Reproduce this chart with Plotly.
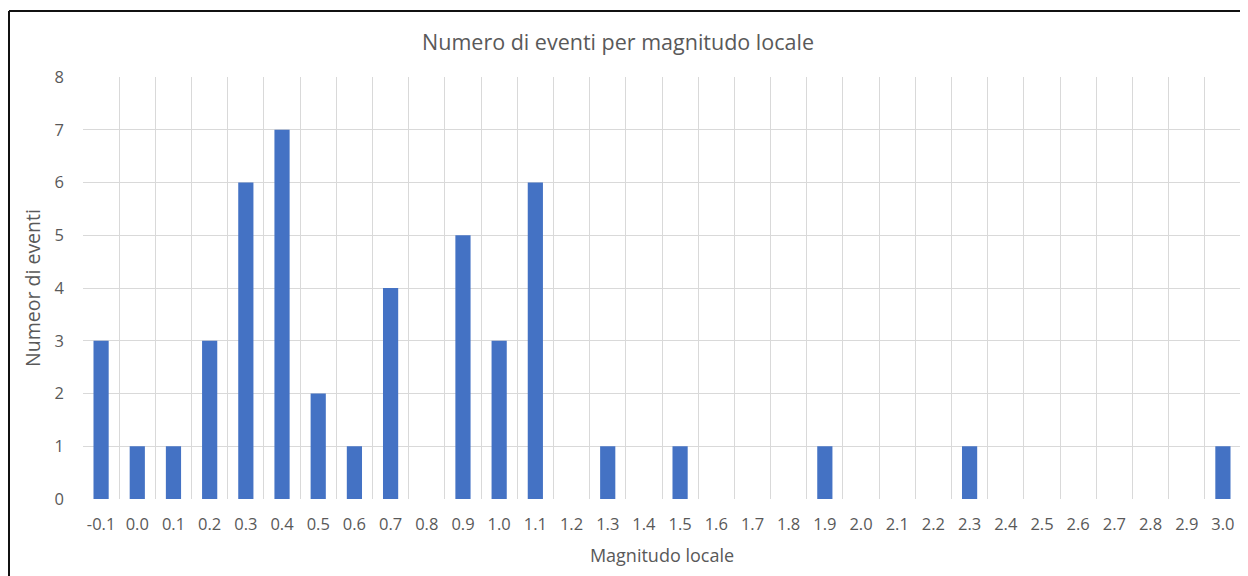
import plotly.graph_objects as go

categories = ["-0.1", "0.0", "0.1", "0.2", "0.3", "0.4", "0.5", "0.6", "0.7", "0.8",
              "0.9", "1.0", "1.1", "1.2", "1.3", "1.4", "1.5", "1.6", "1.7", "1.8",
              "1.9", "2.0", "2.1", "2.2", "2.3", "2.4", "2.5", "2.6", "2.7", "2.8",
              "2.9", "3.0"]
counts = [3, 1, 1, 3, 6, 7, 2, 1, 4, 0,
          5, 3, 6, 0, 1, 0, 1, 0, 0, 0,
          1, 0, 0, 0, 1, 0, 0, 0, 0, 0,
          0, 1]
y_ticks = [0, 1, 2, 3, 4, 5, 6, 7, 8]

FONT = "Open Sans"
GREY = "#595959"
GRID = "#D9D9D9"

fig = go.Figure(go.Bar(x=categories, y=counts, marker_color="#4472C4",
                       marker_line_width=0))

# page body has an 8px margin; figure covers reference pixels 8..1248 x 8..576
OFF = 8
W, H = 1248 - OFF, 576 - OFF
L, R, T, B = 83 - OFF, 7, 77 - OFF, 576 - 499
pw, ph = W - L - R, H - T - B

def px(x):
    return (x - OFF - L) / pw

def py(y):
    return (H - B - (y - OFF)) / ph

fig.update_layout(
    width=W, height=H,
    margin=dict(l=L, r=R, t=T, b=B),
    paper_bgcolor="white", plot_bgcolor="white",
    bargap=0.58,
    showlegend=False,
    title=dict(text="Numero di eventi per magnitudo locale", x=px(618), xanchor="center",
               xref="paper",
               y=1 - (42 - OFF) / H, yanchor="middle",
               font=dict(family=FONT, size=21.5, color=GREY)),
    font=dict(family=FONT, color=GREY),
    xaxis=dict(type="category", tickson="boundaries", range=[-0.5, 31.5],
               showgrid=True, gridcolor=GRID, gridwidth=1, ticks="",
               showline=False, zeroline=False, ticklabelstandoff=13,
               tickangle=0, automargin=False,
               tickfont=dict(family=FONT, size=16.5, color=GREY),
               title=dict(text="Magnitudo locale", standoff=15,
                          font=dict(family=FONT, size=18, color=GREY))),
    yaxis=dict(range=[0, 8], tickvals=y_ticks, showgrid=True, gridcolor=GRID,
               gridwidth=1, zeroline=False, showline=False, ticks="",
               ticklabelstandoff=18, automargin=False,
               tickfont=dict(family=FONT, size=16.5, color=GREY),
               title=dict(text="Numeor di eventi", standoff=8,
                          font=dict(family=FONT, size=19.5, color=GREY))),
    shapes=[
        dict(type="line", xref="paper", yref="paper", x0=px(9), x1=px(1270),
             y0=py(11), y1=py(11), line=dict(color="#111111", width=2)),
        dict(type="line", xref="paper", yref="paper", x0=px(9), x1=px(9),
             y0=py(11), y1=py(600), line=dict(color="#111111", width=2)),
        dict(type="line", xref="paper", yref="paper", x0=1, x1=1,
             y0=0, y1=1, line=dict(color=GRID, width=1)),
    ],
)

fig.write_html("out.html")
